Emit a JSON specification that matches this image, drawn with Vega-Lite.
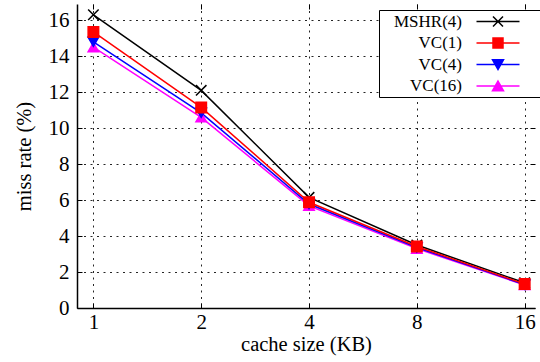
{
  "$schema": "https://vega.github.io/schema/vega-lite/v6.json",
  "width": 458,
  "height": 304,
  "autosize": "none",
  "padding": {"left": 77, "top": 4, "right": 5, "bottom": 54},
  "background": "white",
  "config": {
    "view": {"stroke": null},
    "font": "Liberation Serif",
    "axis": {
      "labelFont": "Liberation Serif",
      "titleFont": "Liberation Serif",
      "labelFontSize": 21,
      "titleFontSize": 20.5,
      "titleFontWeight": "normal",
      "labelColor": "black",
      "titleColor": "black",
      "domainColor": "black",
      "domainWidth": 1.5,
      "tickColor": "black",
      "tickWidth": 1,
      "tickSize": -5,
      "gridColor": "black",
      "gridDash": [2, 4.5],
      "gridOpacity": 0.85,
      "gridWidth": 1
    },
    "legend": {
      "labelFont": "Liberation Serif",
      "labelFontSize": 17,
      "labelColor": "black",
      "strokeColor": "black",
      "fillColor": "white"
    }
  },
  "data": {
    "values": [
      {"size": 1, "series": "MSHR(4)", "rate": 16.3},
      {"size": 2, "series": "MSHR(4)", "rate": 12.1},
      {"size": 4, "series": "MSHR(4)", "rate": 6.15},
      {"size": 8, "series": "MSHR(4)", "rate": 3.5},
      {"size": 16, "series": "MSHR(4)", "rate": 1.4},
      {"size": 1, "series": "VC(16)", "rate": 14.5},
      {"size": 2, "series": "VC(16)", "rate": 10.6},
      {"size": 4, "series": "VC(16)", "rate": 5.68},
      {"size": 8, "series": "VC(16)", "rate": 3.3},
      {"size": 16, "series": "VC(16)", "rate": 1.28},
      {"size": 1, "series": "VC(4)", "rate": 14.8},
      {"size": 2, "series": "VC(4)", "rate": 10.85},
      {"size": 4, "series": "VC(4)", "rate": 5.78},
      {"size": 8, "series": "VC(4)", "rate": 3.36},
      {"size": 16, "series": "VC(4)", "rate": 1.3},
      {"size": 1, "series": "VC(1)", "rate": 15.35},
      {"size": 2, "series": "VC(1)", "rate": 11.15},
      {"size": 4, "series": "VC(1)", "rate": 5.88},
      {"size": 8, "series": "VC(1)", "rate": 3.42},
      {"size": 16, "series": "VC(1)", "rate": 1.33}
    ]
  },
  "layer": [
    {
      "mark": {"type": "line", "strokeWidth": 1.5},
      "encoding": {
        "x": {
          "field": "size", "type": "quantitative",
          "scale": {"type": "log", "base": 2, "domain": [0.9, 17.1], "nice": false},
          "axis": {"values": [1, 2, 4, 8, 16], "format": "d", "title": "cache size (KB)", "labelPadding": 8, "titlePadding": 2, "grid": true}
        },
        "y": {
          "field": "rate", "type": "quantitative",
          "scale": {"domain": [0, 16.9], "nice": false},
          "axis": {"values": [0, 2, 4, 6, 8, 10, 12, 14, 16], "title": "miss rate (%)", "labelPadding": 13, "titlePadding": 14, "grid": true}
        },
        "color": {
          "field": "series", "type": "nominal",
          "scale": {"domain": ["MSHR(4)", "VC(1)", "VC(4)", "VC(16)"], "range": ["#000000", "#ff0000", "#0000ff", "#ff00ff"]},
          "legend": null
        }
      }
    },
    {
      "mark": {"type": "point", "filled": true, "opacity": 1, "strokeWidth": 1.5},
      "encoding": {
        "x": {"field": "size", "type": "quantitative", "axis": {"orient": "top", "values": [1, 2, 4, 8, 16], "labels": false, "domain": false, "grid": false, "title": null}},
        "y": {"field": "rate", "type": "quantitative", "axis": {"orient": "right", "values": [0, 2, 4, 6, 8, 10, 12, 14, 16], "labels": false, "domain": false, "grid": false, "title": null}},
        "fill": {
          "field": "series", "type": "nominal",
          "scale": {"domain": ["MSHR(4)", "VC(1)", "VC(4)", "VC(16)"], "range": ["#000000", "#ff0000", "#0000ff", "#ff00ff"]},
          "legend": null
        },
        "stroke": {
          "field": "series", "type": "nominal",
          "scale": {"domain": ["MSHR(4)", "VC(1)", "VC(4)", "VC(16)"], "range": ["#000000", "#ff0000", "#0000ff", "#ff00ff"]},
          "legend": null
        },
        "shape": {
          "field": "series", "type": "nominal",
          "scale": {"domain": ["MSHR(4)", "VC(1)", "VC(4)", "VC(16)"], "range": ["M-1,-1L1,1M-1,1L1,-1", "square", "triangle-down", "triangle-up"]},
          "legend": null
        },
        "size": {"value": 110}
      }
    },
    {
      "transform": [{"filter": "datum.rate < 0"}],
      "mark": {"type": "point", "filled": true, "opacity": 1, "strokeWidth": 1.5},
      "encoding": {
        "fill": {
          "field": "series", "type": "nominal",
          "scale": {"domain": ["MSHR(4)", "VC(1)", "VC(4)", "VC(16)"], "range": ["#000000", "#ff0000", "#0000ff", "#ff00ff"]},
          "legend": {"title": null}
        },
        "stroke": {
          "field": "series", "type": "nominal",
          "scale": {"domain": ["MSHR(4)", "VC(1)", "VC(4)", "VC(16)"], "range": ["#000000", "#ff0000", "#0000ff", "#ff00ff"]},
          "legend": {"title": null}
        },
        "shape": {
          "field": "series", "type": "nominal",
          "scale": {"domain": ["MSHR(4)", "VC(1)", "VC(4)", "VC(16)"], "range": ["M17.2,0H25.8M20.5,-1L22.5,1M20.5,1L22.5,-1M28.9,0L28.9,0", "M17.2,0H25.8M20.5,-1H22.5V1H20.5ZM28.9,0L28.9,0", "M17.2,0H25.8M20.4,-0.95H22.6L21.5,1ZM28.9,0L28.9,0", "M17.2,0H25.8M21.5,-1L22.6,0.95H20.4ZM28.9,0L28.9,0"]},
          "legend": {
            "title": null,
            "orient": "none",
            "legendX": 302,
            "legendY": 6,
            "labelAlign": "right",
            "labelOffset": 63,
            "padding": 3,
            "rowPadding": 3.5,
            "strokeColor": "black",
            "fillColor": "white",
            "symbolStrokeWidth": 1.5
          }
        },
        "size": {"value": 100}
      }
    }
  ],
  "resolve": {
    "scale": {"fill": "independent", "stroke": "independent", "shape": "independent"},
    "axis": {"x": "independent", "y": "independent"}
  }
}
